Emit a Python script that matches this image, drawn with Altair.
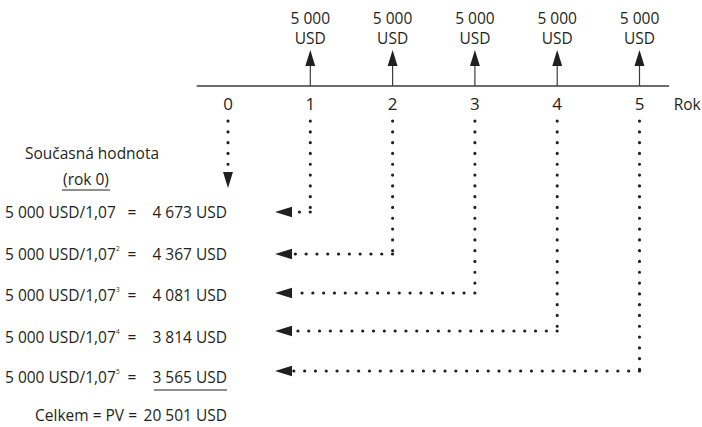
import altair as alt
import pandas as pd

# ---------------- data ----------------
years = [0, 1, 2, 3, 4, 5]
cash_flow_years = [1, 2, 3, 4, 5]
cash_flows = ["5 000", "5 000", "5 000", "5 000", "5 000"]
exponents = ["", "2", "3", "4", "5"]
rate_label = "1,07"
pv_values = ["4 673 USD", "4 367 USD", "4 081 USD", "3 814 USD", "3 565 USD"]
total_label = "Celkem = PV ="
total_value = "20 501 USD"
axis_label = "Rok"
title_lines = ["Současná hodnota", "(rok 0)"]

# ---------------- layout ----------------
W, H = 702, 427
X0, STEP = 228, 82.3          # pixel position of year 0 and width of one year
def xp(year):
    return X0 + STEP * year

LINE_Y = 86
TOP1_Y, TOP2_Y = 19, 39
YEARLBL_Y = 105
DOT_TOP = 121
ARROW_Y = [212, 254, 293, 331, 371]
TEXT_Y = [213, 255, 296, 338, 378]
TOTAL_Y = 416
ARROW_TIP_X = 275
FONT = "Open Sans"
FS = 15.5
INK = "#231f20"

xs = alt.Scale(domain=[0, W])
ys = alt.Scale(domain=[0, H], reverse=True)

def X(f="x"):
    return alt.X(f"{f}:Q", scale=xs, axis=None)

def Y(f="y"):
    return alt.Y(f"{f}:Q", scale=ys, axis=None)

layers = []

# timeline
tl = pd.DataFrame({"x": [xp(-0.38)], "x2": [xp(5.36)], "y": [LINE_Y]})
layers.append(alt.Chart(tl).mark_rule(color="#3c3c3c", strokeWidth=1.3).encode(
    x=X(), x2="x2:Q", y=Y()))

# up arrows
up = pd.DataFrame({"x": [xp(t) for t in cash_flow_years],
                   "y": [LINE_Y] * 5, "y2": [64] * 5, "yh": [58] * 5,
                   "cf": cash_flows})
layers.append(alt.Chart(up).mark_rule(color="#3c3c3c", strokeWidth=1.2).encode(
    x=X(), y=Y(), y2="y2:Q"))
layers.append(alt.Chart(up).mark_point(
    shape="M0,-1L0.62,1L-0.62,1Z", filled=True, opacity=1, color=INK, size=256,
    strokeWidth=0).encode(x=X(), y=Y("yh")))

# top labels
layers.append(alt.Chart(up).mark_text(font=FONT, fontSize=FS, color=INK,
                                      baseline="middle").encode(
    x=X(), y=alt.value(TOP1_Y), text="cf:N"))
layers.append(alt.Chart(up).mark_text(font=FONT, fontSize=FS, color=INK,
                                      baseline="middle", text="USD").encode(
    x=X(), y=alt.value(TOP2_Y)))

# year labels
yl = pd.DataFrame({"x": [xp(t) for t in years], "lbl": [str(t) for t in years]})
layers.append(alt.Chart(yl).mark_text(font=FONT, fontSize=FS + 1.5, color=INK,
                                      baseline="middle").encode(
    x=X(), y=alt.value(YEARLBL_Y), text="lbl:N"))
layers.append(alt.Chart(pd.DataFrame({"x": [xp(5.58)], "lbl": [axis_label]})).mark_text(
    font=FONT, fontSize=FS, color=INK, baseline="middle").encode(
    x=X(), y=alt.value(YEARLBL_Y), text="lbl:N"))

dot = dict(color=INK, strokeWidth=3.1, strokeCap="round", strokeDash=[0.1, 10.7])

# dotted verticals
vd = pd.DataFrame({"x": [xp(t) for t in years],
                   "y": [DOT_TOP] * 6,
                   "y2": [168] + ARROW_Y})
layers.append(alt.Chart(vd).mark_rule(**dot).encode(x=X(), y=Y(), y2="y2:Q"))

# dotted horizontals
hd = pd.DataFrame({"x": [xp(t) for t in cash_flow_years],
                   "x2": [ARROW_TIP_X + 17] * 5, "y": ARROW_Y})
layers.append(alt.Chart(hd).mark_rule(**dot).encode(x=X(), x2="x2:Q", y=Y()))

# left arrowheads
la = pd.DataFrame({"x": [ARROW_TIP_X + 8.5] * 5, "y": ARROW_Y})
layers.append(alt.Chart(la).mark_point(
    shape="M-1,0L1,-0.62L1,0.62Z", filled=True, opacity=1, color=INK, size=289,
    strokeWidth=0).encode(x=X(), y=Y()))

# down arrow at year 0
layers.append(alt.Chart(pd.DataFrame({"x": [xp(0)], "y": [180]})).mark_point(
    shape="M0,1L0.62,-1L-0.62,-1Z", filled=True, opacity=1, color=INK, size=256,
    strokeWidth=0).encode(x=X(), y=Y()))

# left title
tt = pd.DataFrame({"x": [92, 86], "y": [154, 180], "lbl": title_lines})
layers.append(alt.Chart(tt).mark_text(font=FONT, fontSize=FS, color=INK,
                                      baseline="middle").encode(
    x=X(), y=Y(), text="lbl:N"))
layers.append(alt.Chart(pd.DataFrame({"x": [62], "x2": [110], "y": [190]})).mark_rule(
    color=INK, strokeWidth=1).encode(x=X(), x2="x2:Q", y=Y()))

# formulas
fm = pd.DataFrame({
    "x": [5] * 5, "y": TEXT_Y,
    "base": [f"{c} USD/{rate_label}" for c in cash_flows],
    "exp": exponents,
    "val": pv_values,
})
layers.append(alt.Chart(fm).mark_text(font=FONT, fontSize=FS, color=INK,
                                      baseline="middle", align="left").encode(
    x=X(), y=Y(), text="base:N"))
layers.append(alt.Chart(fm).mark_text(font=FONT, fontSize=6.5, color=INK,
                                      baseline="middle", align="left", dx=111, dy=-6).encode(
    x=X(), y=Y(), text="exp:N"))
layers.append(alt.Chart(fm).mark_text(font=FONT, fontSize=FS, color=INK,
                                      baseline="middle", text="=").encode(
    x=alt.value(132), y=Y()))
layers.append(alt.Chart(fm).mark_text(font=FONT, fontSize=FS, color=INK,
                                      baseline="middle", align="right").encode(
    x=alt.value(227), y=Y(), text="val:N"))
layers.append(alt.Chart(pd.DataFrame({"x": [154], "x2": [227], "y": [TEXT_Y[-1] + 12]})).mark_rule(
    color=INK, strokeWidth=1).encode(x=X(), x2="x2:Q", y=Y()))

# total
tot = pd.DataFrame({"y": [TOTAL_Y], "a": [total_label], "b": [total_value]})
layers.append(alt.Chart(tot).mark_text(font=FONT, fontSize=FS, color=INK,
                                       baseline="middle", align="right").encode(
    x=alt.value(137), y=Y(), text="a:N"))
layers.append(alt.Chart(tot).mark_text(font=FONT, fontSize=FS, color=INK,
                                       baseline="middle", align="right").encode(
    x=alt.value(227), y=Y(), text="b:N"))

chart = alt.layer(*layers).properties(
    width=W, height=H, padding=0,
    autosize=alt.AutoSizeParams(type="none"),
).configure_view(stroke=None)

chart.save("out.html", embed_options={"renderer": "svg", "actions": False})
